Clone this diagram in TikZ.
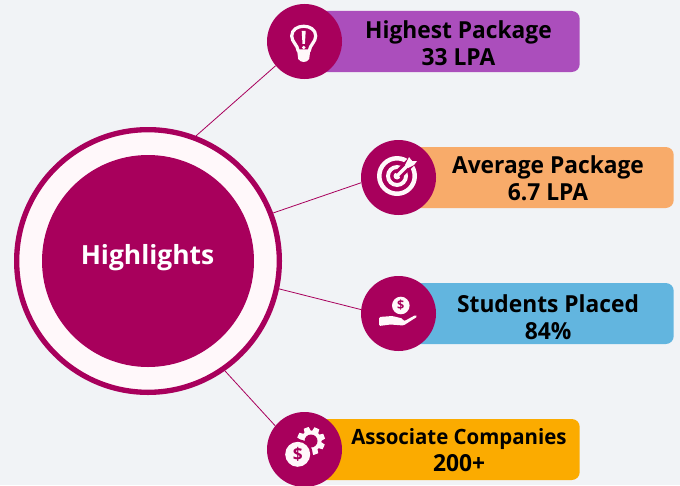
\documentclass[tikz,border=0pt]{standalone}
\usepackage{fontspec}
\setmainfont{Open Sans}
\newfontface\labface[FakeStretch=0.97]{Open Sans Bold}
\usetikzlibrary{calc}
\definecolor{bgc}{HTML}{F1F3F6}
\definecolor{mag}{HTML}{A8005C}
\definecolor{ringw}{HTML}{FFF8FA}
\definecolor{cpurple}{HTML}{AB4EBC}
\definecolor{corange}{HTML}{F8AB6A}
\definecolor{cblue}{HTML}{62B5DF}
\definecolor{camber}{HTML}{FBAB00}
\tikzset{
  x=0.75pt,y=-0.75pt,
  iconc/.style={circle,fill=mag,draw=none,inner sep=0pt,minimum size=56.25pt},
  bar/.style={draw=none,fill=#1,rounded corners=6pt,inner sep=0pt,minimum height=45.75pt,anchor=east},
  lab/.style={align=center,font=\labface\fontsize{17.6}{20}\selectfont,text=black,inner sep=0pt},
  labsmall/.style={align=center,font=\labface\fontsize{15.8}{20}\selectfont,text=black,inner sep=0pt},
  link/.style={draw=mag,line width=0.6pt},
}
\begin{document}
\begin{tikzpicture}
\useasboundingbox (0,0) rectangle (680,485);
\fill[bgc] (0,0) rectangle (680,485);
% hub
\node[circle,fill=ringw,draw=mag,line width=4pt,inner sep=0pt,minimum size=197pt] (hub) at (148,261) {};
\node[circle,fill=mag,inner sep=0pt,minimum size=159pt] (core) at (148,261) {};
\node[text=white,font=\bfseries\fontsize{19.8}{22}\selectfont,inner sep=0pt] (hl) at (147.5,258) {Highlights};
% bars
\node[bar=cpurple,minimum width=206pt] (b1) at (580,41.5) {};
\node[bar=corange,minimum width=206pt] (b2) at (674,177.5) {};
\node[bar=cblue,minimum width=206pt] (b3) at (674,313.5) {};
\node[bar=camber,minimum width=206pt] (b4) at (580,449.5) {};
% icon discs
\node[iconc] (i1) at (304.5,41.5) {};
\node[iconc] (i2) at (398.5,177.5) {};
\node[iconc] (i3) at (398.5,313.5) {};
\node[iconc] (i4) at (304.5,449.5) {};
% connectors
\draw[link] (hub.69.5) -- (i1.220.8);
\draw[link] (hub.21.3) -- (i2.188.3);
\draw[link] (hub.-12.5) -- (i3.174.7);
\draw[link] (hub.-55) -- (i4.141.5);
% labels
\node[lab] (t1) at (458.5,43) {Highest Package\\33 LPA};
\node[lab] (t2) at (548,178) {Average Package\\6.7 LPA};
\node[lab] (t3) at (548,317) {Students Placed\\84\%};
\node[labsmall] (t4) at (459,450) {Associate Companies\\{\fontsize{17.6}{20}\selectfont 200+}};
% bulb icon
\begin{scope}[shift={(303.7,41)}]
  \draw[ringw,line width=2.4pt,line join=round] (-5.5,10) .. controls (-6,4) and (-12,1) .. (-12,-5)
     .. controls (-12,-18) and (12,-18) .. (12,-5)
     .. controls (12,1) and (6,4) .. (5.5,10) -- cycle;
  \fill[ringw] (-6.5,10) -- (6.5,10) -- (5.5,18) .. controls (3,22) and (-3,22) .. (-5.5,18) -- cycle;
  \fill[ringw] (-2,-10) -- (2,-10) -- (1.2,3) -- (-1.2,3) -- cycle;
  \fill[ringw] (0,6.5) circle (1.9);
\end{scope}
% target icon
\begin{scope}[shift={(397,176)}]
  \fill[ringw,even odd rule] (0,0) circle (20) (0,0) circle (15.5) (0,0) circle (11) (0,0) circle (7);
  \fill[ringw] (0,0) circle (3.5);
  \draw[mag,line width=7pt] (1,-1) -- (16,-16);
  \draw[ringw,line width=2.6pt] (0,0) -- (15,-15);
  \fill[ringw] (8,-11) -- (12,-19) -- (15,-15) -- (20,-15) -- (17,-11) -- (11,-8) -- cycle;
\end{scope}
% hand with coin
\begin{scope}[shift={(398.5,313.5)}]
  \fill[ringw] (2.3,-8) circle (8.8);
  \node[text=mag,font=\bfseries\fontsize{9.5}{10}\selectfont,inner sep=0pt] (s3) at (2.3,-8) {\$};
  \fill[ringw,rounded corners=1pt] (-19.5,3.5) -- (-6,2.5) -- (4,5) -- (5,7.5) -- (6,7.5)
     -- (17,1.5) -- (19,3) -- (5,12) -- (-8,11) -- (-19.5,12.5) -- cycle;
\end{scope}
% gear with coin
\begin{scope}[shift={(311,441)}]
  \foreach \a in {0,45,...,315}{
    \fill[ringw,rotate=\a+20] (-2.6,-14) -- (2.6,-14) -- (3.4,-9) -- (-3.4,-9) -- cycle;
  }
  \fill[ringw] (0,0) circle (10.5);
  \fill[mag] (0,0) circle (6.5);
  \fill[mag] (-13.3,13.3) circle (15);
  \fill[ringw] (-13.3,13.3) circle (12.5);
  \node[text=mag,font=\bfseries\fontsize{13}{14}\selectfont,inner sep=0pt] (s4) at (-13.3,13.3) {\$};
\end{scope}
\end{tikzpicture}
\end{document}
